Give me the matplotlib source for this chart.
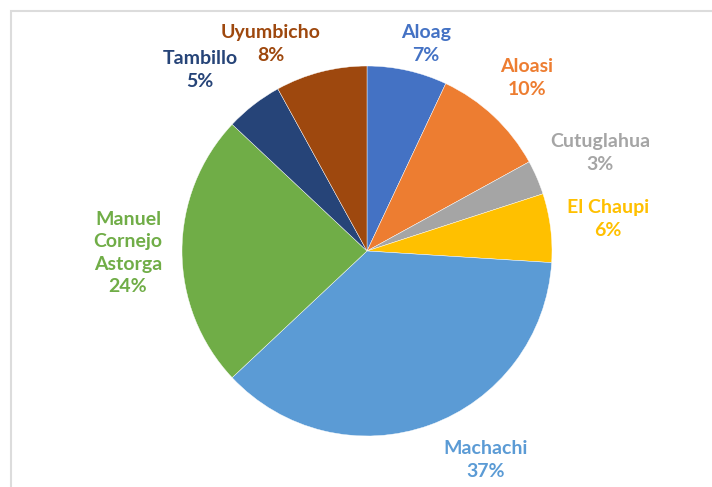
import matplotlib.pyplot as plt
from matplotlib.patches import Rectangle

names = ["Aloag", "Aloasi", "Cutuglahua", "El Chaupi", "Machachi",
         "Manuel\nCornejo\nAstorga", "Tambillo", "Uyumbicho"]
shares = [7, 10, 3, 6, 37, 24, 5, 8]
colors = ["#4472C4", "#ED7D31", "#A5A5A5", "#FFC000", "#5B9BD5",
          "#70AD47", "#264478", "#9E480E"]

# label anchor points in pixels (x, y from top)
label_px = [(426, 44), (527, 78), (600, 153), (608, 219), (486, 460),
            (128, 253), (200, 70), (271, 44)]

W, H = 712, 487
fig = plt.figure(figsize=(W/100, H/100), dpi=100)
ax = fig.add_axes([0, 0, 1, 1])

# chart frame
fig.patches.append(Rectangle((10.5/W, -0.1), 1.2, (H-10.5)/H + 0.1,
                             transform=fig.transFigure, fill=False,
                             edgecolor="#dcdcdc", linewidth=1.5))

ax.pie(shares, colors=colors, startangle=90, counterclock=False,
       center=(367, H-251), radius=185, frame=True,
       wedgeprops=dict(edgecolor="white", linewidth=0.3))
ax.set_xlim(0, W); ax.set_ylim(0, H)
ax.set_aspect("equal")
ax.axis("off")

for name, s, c, (x, y) in zip(names, shares, colors, label_px):
    ax.text(x, H-y, f"{name}\n{s}%", color=c, ha="center", va="center",
            fontsize=14, fontweight="bold", family="Lato", linespacing=1.38)

fig.savefig("out.png", dpi=100)
